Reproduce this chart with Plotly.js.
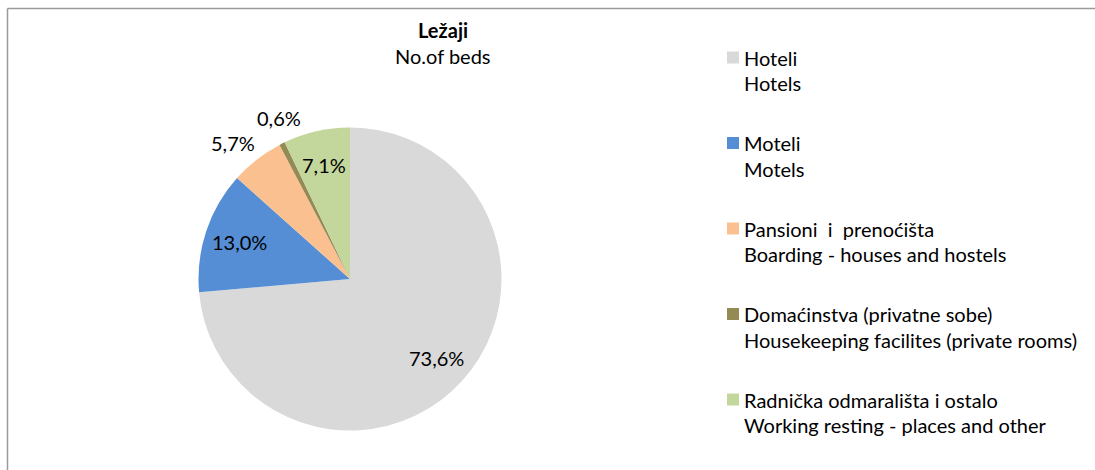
<!DOCTYPE html>
<html><head><meta charset="utf-8">
<script src="https://cdn.plot.ly/plotly-3.0.1.min.js"></script>
<style>html,body{margin:0;padding:0;background:#fff}#chart{width:1095px;height:470px}</style>
</head><body><div id="chart"></div>
<script>
// ---- data ----
const categories = ['Hoteli', 'Moteli', 'Pansioni\u00a0 i\u00a0 prenoćišta', 'Domaćinstva (privatne sobe)', 'Radnička odmarališta i ostalo'];
const categoriesEn = ['Hotels', 'Motels', 'Boarding - houses and hostels', 'Housekeeping facilites (private rooms)', 'Working resting - places and other'];
const shares = [73.6, 13.0, 5.7, 0.6, 7.1];
const colors = ['#d9d9d9', '#558ed5', '#fac090', '#948a54', '#c3d69b'];
const labelPositions = ['inside', 'inside', 'outside', 'outside', 'inside'];
const titleMain = 'Ležaji';
const titleSub = 'No.of beds';

// ---- layout helpers ----
const W = 1095, H = 470;
const FONT = 'Lato, sans-serif';
const FS = 20;
const px = x => x / W, py = y => 1 - y / H;
const cx = 350, cy = 279, r = 151.5;

const trace = {
  type: 'pie',
  labels: categories.map((c, i) => c + ' / ' + categoriesEn[i]),
  values: shares,
  sort: false,
  direction: 'clockwise',
  rotation: 0,
  marker: {colors: colors, line: {width: 0}},
  textinfo: 'none',
  hoverinfo: 'label+percent',
  domain: {x: [px(cx - r), px(cx + r)], y: [py(cy + r), py(cy - r)]},
  showlegend: false
};

const annotations = [
  {text: '<b>' + titleMain + '</b>', x: px(442.5), y: py(30), xref: 'paper', yref: 'paper', xanchor: 'center', yanchor: 'middle', showarrow: false, font: {family: FONT, size: FS, color: '#000'}},
  {text: titleSub, x: px(442.5), y: py(56), xref: 'paper', yref: 'paper', xanchor: 'center', yanchor: 'middle', showarrow: false, font: {family: FONT, size: FS, color: '#000'}}
];

// percent labels placed along each slice's mid-angle (computed from the data)
const total = shares.reduce((a, b) => a + b, 0);
const mids = [];
let cum = 0;
shares.forEach(v => { mids.push((cum + v / 2) / total * 2 * Math.PI); cum += v; });
const HW = 22, HH = 8, GAP = 8;
function labelPos(i, ang) {
  const sx = Math.sin(ang), sy = -Math.cos(ang);
  const d = labelPositions[i] === 'inside' ? 0.77 * r : r + GAP + Math.abs(sx) * HW + Math.abs(sy) * HH;
  return [cx + d * sx, cy + d * sy];
}
// simple collision avoidance for neighbouring outside labels: spread them along the arc
const angs = mids.slice();
const outs = labelPositions.map((p, i) => p === 'outside' ? i : -1).filter(i => i >= 0);
for (let it = 0; it < 200; it++) {
  let moved = false;
  for (let k = 0; k + 1 < outs.length; k++) {
    const a = outs[k], b = outs[k + 1];
    const pa = labelPos(a, angs[a]), pb = labelPos(b, angs[b]);
    if (Math.abs(pa[0] - pb[0]) < 2 * HW + 6 && Math.abs(pa[1] - pb[1]) < 2 * HH + 8) {
      angs[a] -= 0.004; angs[b] += 0.004; moved = true;
    }
  }
  if (!moved) break;
}
shares.forEach((v, i) => {
  const p = labelPos(i, angs[i]);
  const txt = v.toFixed(1).replace('.', ',') + '%';
  annotations.push({text: txt, x: px(p[0]), y: py(p[1]), xref: 'paper', yref: 'paper', xanchor: 'center', yanchor: 'middle', showarrow: false, font: {family: FONT, size: FS, color: '#000'}});
});

const shapes = [
  {type: 'line', xref: 'paper', yref: 'paper', x0: px(7.5), x1: 1, y0: py(8.5), y1: py(8.5), line: {color: '#9a9a9a', width: 1.5}},
  {type: 'line', xref: 'paper', yref: 'paper', x0: px(7.5), x1: px(7.5), y0: py(8.5), y1: 0, line: {color: '#9a9a9a', width: 1.5}}
];
const legY0 = 57.5, legStep = 85.5, legLine = 25.5, legTextX = 742;
categories.forEach((c, i) => {
  const yc = legY0 + i * legStep;
  shapes.push({type: 'rect', xref: 'paper', yref: 'paper', x0: px(727), x1: px(739), y0: py(yc + 6), y1: py(yc - 6), line: {width: 0}, fillcolor: colors[i]});
  annotations.push({text: c, x: px(legTextX), y: py(yc), xref: 'paper', yref: 'paper', xanchor: 'left', yanchor: 'middle', showarrow: false, font: {family: FONT, size: FS, color: '#000'}});
  annotations.push({text: categoriesEn[i], x: px(legTextX), y: py(yc + legLine), xref: 'paper', yref: 'paper', xanchor: 'left', yanchor: 'middle', showarrow: false, font: {family: FONT, size: FS, color: '#000'}});
});

const layout = {
  width: W, height: H,
  margin: {l: 0, r: 0, t: 0, b: 0},
  paper_bgcolor: '#fff',
  separators: ',.',
  font: {family: FONT, size: FS, color: '#000'},
  showlegend: false,
  annotations: annotations,
  shapes: shapes
};
Plotly.newPlot('chart', [trace], layout, {displayModeBar: false, staticPlot: true});
</script>
</body></html>
